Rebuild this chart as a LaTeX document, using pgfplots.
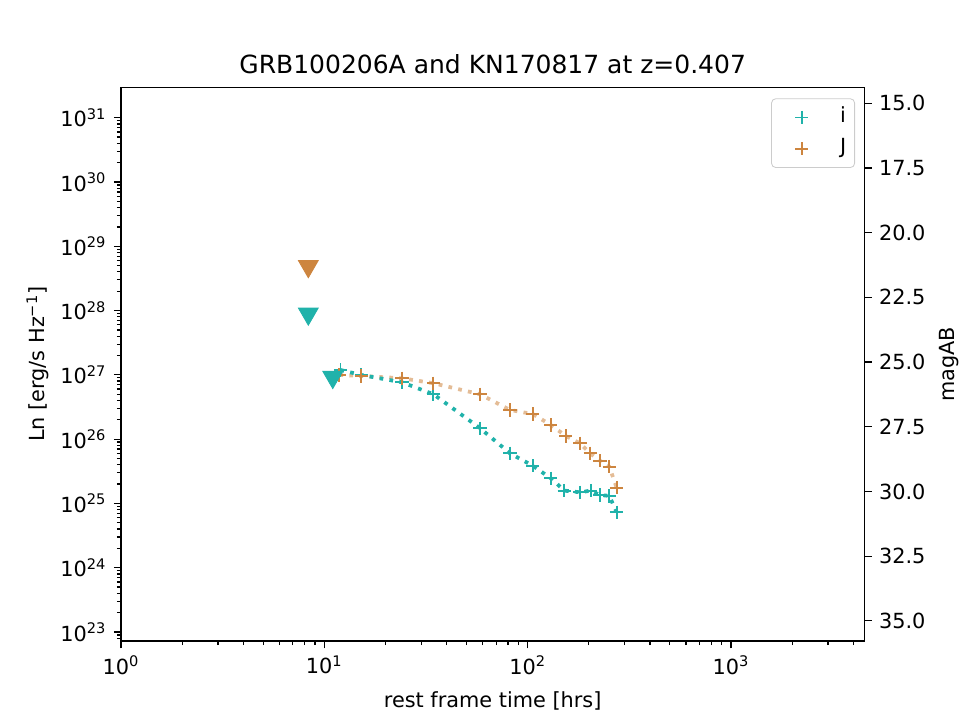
\documentclass[border=0pt]{standalone}
\usepackage{fontspec}
\setmainfont{DejaVu Sans}
\usepackage{pgfplots}
\usepackage{pgfplotstable}
\pgfplotsset{compat=1.18}

\definecolor{iband}{HTML}{20B2AA}
\definecolor{jband}{HTML}{CD853F}

% legend entry: a single mark centred in a 20pt-wide handle
\pgfplotsset{
  mark legend/.style={
    legend image code/.code={%
      \path (0pt,0pt) (28pt,0pt);
      \draw[##1] plot coordinates {(10pt,0pt)};}},
}

% rest-frame time [hrs] and luminosity density [erg/s/Hz]
\pgfplotstableread{
t      L
12.0   1.19e27
15.2   9.95e26
24.1   7.66e26
34.4   4.99e26
58.3   1.48e26
81.9   6.0e25
105.9  3.86e25
130    2.46e25
151.6  1.58e25
181    1.49e25
204    1.58e25
227    1.35e25
252    1.31e25
274    7.3e24
}\idata
\pgfplotstableread{
t      L
11.85  9.96e26
15.2   9.6e26
24.1   8.85e26
34.4   7.4e26
58.3   4.99e26
81.9   2.84e26
105.9  2.46e26
130    1.66e26
154    1.12e26
181    8.6e25
203    6.0e25
227    4.6e25
252    3.73e25
274    1.76e25
}\jdata
% GRB100206A upper limits
\pgfplotstableread{
t      L
8.34   8.03e27
11.0   8.3e26
}\iupper
\pgfplotstableread{
t      L
8.34   4.40e28
}\jupper

\begin{document}
\begin{tikzpicture}
\begin{axis}[
  at={(0,0)}, anchor=south west,
  scale only axis, width=356.8pt, height=265.8pt,
  xmode=log, log basis x=10, xmin=1, xmax=4530,
  ymode=log, log basis y=10,
  ymin=7.24e22, ymax=2.97e31,
  tick align=outside,
  major tick length=3.5pt, minor tick length=2pt,
  every tick/.style={black, line width=0.6pt},
  axis line style={line width=0.6pt},
  tick label style={font=\fontsize{10}{12}\selectfont},
  label style={font=\fontsize{10}{12}\selectfont},
  xtick pos=left, ytick pos=left,
  xticklabel={10\textsuperscript{\pgfmathparse{int(round(\tick))}\pgfmathresult}},
  yticklabel={10\textsuperscript{\pgfmathparse{int(round(\tick))}\pgfmathresult}},
  xlabel={rest frame time [hrs]},
  xlabel style={yshift=-1.6pt},
  ylabel={Ln [erg/s Hz\textsuperscript{−1}]},
  ylabel style={yshift=-1.5pt},
  title={GRB100206A and KN170817 at z=0.407},
  title style={font=\fontsize{12}{14}\selectfont, yshift=-3.2pt},
  legend style={at={(0.9874,0.980)}, anchor=north east,
    draw=black!20, rounded corners=2pt, fill=white,
    font=\fontsize{10}{12}\selectfont,
    inner xsep=4pt, inner ysep=4pt,
    row sep=5pt, column sep=0pt,
    nodes={inner sep=0pt, text height=7.5pt, text depth=2.5pt}},
  legend cell align=left,
]
% light curves as dotted lines
\addplot[forget plot, jband, opacity=0.55, line width=1.8pt, line cap=butt,
  dash pattern=on 1.8pt off 3pt] table[x=t, y=L] {\jdata};
\addplot[forget plot, iband, line width=1.8pt, line cap=butt,
  dash pattern=on 1.8pt off 3pt] table[x=t, y=L] {\idata};
% photometric points
\addplot[iband, only marks, mark=+, mark size=3.2pt, line width=0.9pt,
  mark legend] table[x=t, y=L] {\idata};
\addlegendentry{i}
\addplot[jband, only marks, mark=+, mark size=3.2pt, line width=0.9pt,
  mark legend] table[x=t, y=L] {\jdata};
\addlegendentry{J}
% upper limits
\addplot[forget plot, only marks, mark=triangle*, color=jband, mark size=5.5pt,
  mark options={yshift=1.4pt, rotate=180}] table[x=t, y=L] {\jupper};
\addplot[forget plot, only marks, mark=triangle*, color=iband, mark size=5.5pt,
  mark options={yshift=1.4pt, rotate=180}] table[x=t, y=L] {\iupper};
\end{axis}
\begin{axis}[
  at={(0,0)}, anchor=south west,
  scale only axis, width=356.8pt, height=265.8pt,
  xmode=log, xmin=1, xmax=4530,
  tick align=outside,
  major tick length=3.5pt,
  every tick/.style={black, line width=0.6pt},
  axis line style={line width=0.6pt},
  tick label style={font=\fontsize{10}{12}\selectfont},
  label style={font=\fontsize{10}{12}\selectfont},
  axis x line=none,
  axis y line*=right,
  y dir=reverse,
  ymin=14.38, ymax=35.78,
  ytick={15,17.5,20,22.5,25,27.5,30,32.5,35},
  minor ytick={},
  yticklabel style={/pgf/number format/.cd, fixed, fixed zerofill,
    precision=1, assume math mode=true},
  ylabel={magAB},
]
\addplot[draw=none] coordinates {(10,20)};
\end{axis}
\pgfresetboundingbox
\useasboundingbox (-58.1pt,-37.9pt) rectangle (402.7pt,307.7pt);
\end{tikzpicture}
\end{document}
